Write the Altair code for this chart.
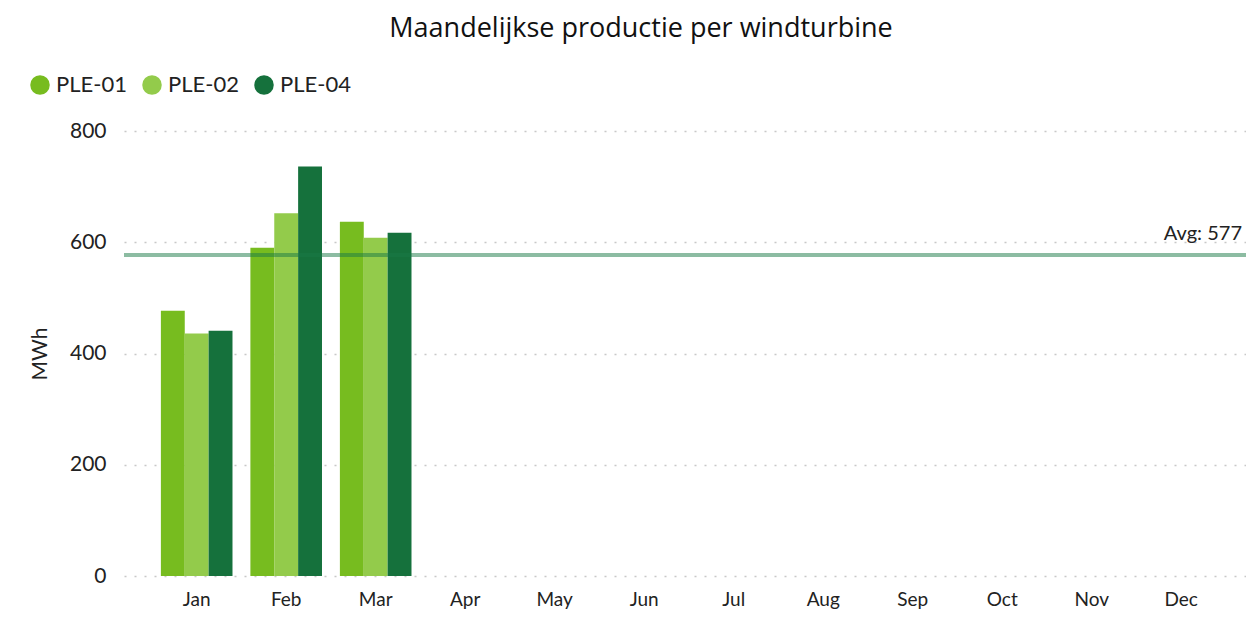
import altair as alt
import pandas as pd

months = ["Jan", "Feb", "Mar", "Apr", "May", "Jun", "Jul", "Aug", "Sep", "Oct", "Nov", "Dec"]
turbines = ["PLE-01", "PLE-02", "PLE-04"]
colors = ["#77bc1f", "#93cb4b", "#15713c"]
ple01 = [477, 590, 637]
ple02 = [436, 652, 608]
ple04 = [441, 736, 617]

rows = []
for i, m in enumerate(["Jan", "Feb", "Mar"]):
    for t, vals in zip(turbines, [ple01, ple02, ple04]):
        rows.append({"month": m, "turbine": t, "mwh": vals[i]})
df = pd.DataFrame(rows)

FONT = "Lato"
W, H = 1122, 445

base = alt.Chart(df)

bars = base.mark_bar().encode(
    x=alt.X("month:N", sort=months,
            scale=alt.Scale(domain=months, paddingInner=0.2, paddingOuter=0.368, align=0.56),
            axis=alt.Axis(title=None, labelFontSize=19, labelColor="#222222", labelPadding=14,
                          ticks=False, domain=False, grid=False, labelAngle=0, labelFont=FONT)),
    xOffset=alt.XOffset("turbine:N", sort=turbines),
    y=alt.Y("mwh:Q", scale=alt.Scale(domain=[0, 800]),
            axis=alt.Axis(title="MWh", values=[0, 200, 400, 600, 800], titleFontSize=21,
                          titleFontWeight="normal", titleColor="#222222", titlePadding=19,
                          labelFontSize=21, labelColor="#222222", labelPadding=18, labelFont=FONT,
                          titleFont=FONT, ticks=False, domain=False, grid=True,
                          gridColor="#c8c8c8", gridDash=[2, 8], gridWidth=1.5)),
    color=alt.Color("turbine:N", sort=turbines, scale=alt.Scale(domain=turbines, range=colors),
                    legend=alt.Legend(title=None, orient="none", legendX=-95, legendY=-57,
                                      direction="horizontal", symbolType="circle", symbolSize=380,
                                      labelFontSize=22, labelFont=FONT, labelColor="#222222",
                                      labelOffset=5, columnPadding=14, symbolStrokeWidth=0)),
)

rule = base.mark_rule(color="#1a7a45", opacity=0.5, strokeWidth=4).encode(
    y="mean(mwh):Q"
)

text = base.transform_aggregate(avg="mean(mwh)").transform_calculate(
    label="'Avg: ' + format(datum.avg, '.0f')"
).mark_text(align="right", baseline="alphabetic", dy=-15, fontSize=20, font=FONT, color="#222222").encode(
    x=alt.value(W - 4),
    y="avg:Q",
    text="label:N",
)

chart = alt.layer(bars, rule, text).properties(
    width=W, height=H,
    background="white",
    title=alt.TitleParams("Maandelijkse productie per windturbine", fontSize=27, font="Open Sans",
                          fontWeight=500, color="#111111", anchor="middle", dx=-44, offset=31),
    autosize=alt.AutoSizeParams(type="none"),
    padding={"left": 116, "top": 123, "right": 0, "bottom": 40},
).configure_view(strokeOpacity=0, strokeWidth=0)

chart.save("out.html", embed_options={"renderer": "svg", "actions": False})
